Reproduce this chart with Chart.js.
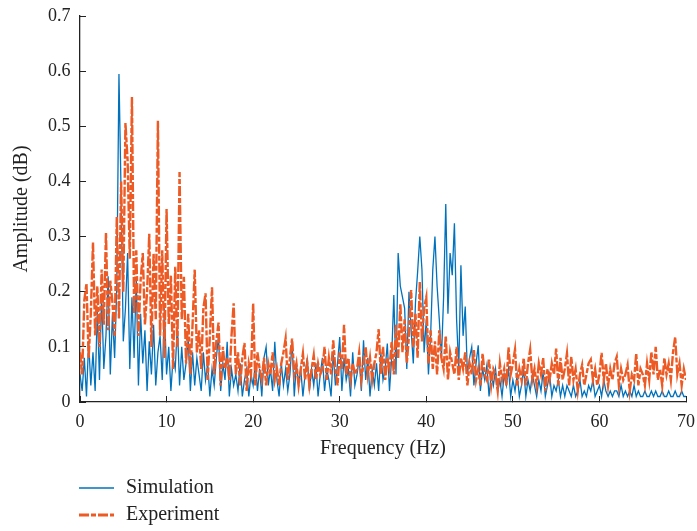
<!DOCTYPE html>
<html>
<head>
<meta charset="utf-8">
<script src="https://cdn.jsdelivr.net/npm/chart.js@4.4.1/dist/chart.umd.min.js"></script>
<style>
  body { margin: 0; background: #fff; }
</style>
</head>
<body>
<canvas id="spectrum" width="697" height="531"></canvas>
<script>
// samples every 0.25 Hz from 0 to 70 Hz
const step = 0.25;

const simulation = [
  0.05, 0.02, 0.08, 0.01,   0.11, 0.03, 0.09, 0.02,   0.17, 0.04, 0.195, 0.06,  0.12, 0.228, 0.05, 0.16,
  0.08, 0.21, 0.595, 0.375, 0.11, 0.17, 0.27, 0.06,   0.19, 0.08, 0.226, 0.03,  0.16, 0.07, 0.13, 0.02,
  0.11, 0.05, 0.14, 0.03,   0.09, 0.12, 0.04, 0.17,   0.05, 0.10, 0.02, 0.08,   0.06, 0.14, 0.03, 0.10,
  0.04, 0.07, 0.115, 0.02,  0.09, 0.03, 0.08, 0.05,   0.02, 0.09, 0.04, 0.07,   0.01, 0.06, 0.03, 0.08,
  0.121, 0.02, 0.07, 0.04,  0.109, 0.01, 0.06, 0.03,  0.05, 0.02, 0.07, 0.01,   0.04, 0.06, 0.01, 0.05,
  0.03, 0.07, 0.02, 0.06,   0.01, 0.08, 0.10, 0.03,   0.06, 0.02, 0.109, 0.04,  0.01, 0.07, 0.03, 0.06,
  0.02, 0.05, 0.11, 0.01,   0.07, 0.03, 0.06, 0.01,   0.05, 0.08, 0.02, 0.06,   0.03, 0.07, 0.01, 0.05,
  0.08, 0.02, 0.06, 0.04,   0.01, 0.09, 0.03, 0.07,   0.118, 0.02, 0.08, 0.04,  0.06, 0.01, 0.09, 0.03,
  0.05, 0.08, 0.02, 0.112,  0.04, 0.08, 0.01, 0.06,   0.03, 0.07, 0.02, 0.09,   0.04, 0.06, 0.106, 0.02,
  0.08, 0.194, 0.05, 0.27,  0.21, 0.19, 0.17, 0.06,   0.20, 0.13, 0.07, 0.18,   0.236, 0.30, 0.24, 0.09,
  0.15, 0.05, 0.12, 0.24,   0.30, 0.21, 0.15, 0.08,   0.19, 0.359, 0.16, 0.27,  0.23, 0.324, 0.15, 0.06,
  0.248, 0.12, 0.173, 0.05, 0.08, 0.10, 0.03, 0.07,   0.103, 0.02, 0.06, 0.04,  0.067, 0.01, 0.05, 0.03,
  0.06, 0.02, 0.04, 0.01,   0.05, 0.03, 0.06, 0.01,   0.04, 0.02, 0.05, 0.01,   0.03, 0.06, 0.01, 0.04,
  0.02, 0.05, 0.03, 0.01,   0.04, 0.02, 0.055, 0.01,  0.03, 0.05, 0.01, 0.03,   0.02, 0.04, 0.01, 0.03,
  0.01, 0.03, 0.02, 0.01,   0.03, 0.01, 0.02, 0.04,   0.01, 0.02, 0.01, 0.03,   0.02, 0.04, 0.01, 0.02,
  0.03, 0.01, 0.04, 0.02,   0.01, 0.02, 0.01, 0.02,   0.02, 0.01, 0.03, 0.01,   0.02, 0.01, 0.02, 0.01,
  0.03, 0.01, 0.02, 0.01,   0.01, 0.02, 0.01, 0.01,   0.02, 0.01, 0.02, 0.01,   0.01, 0.02, 0.01, 0.01,
  0.02, 0.01, 0.01, 0.02,   0.01, 0.01, 0.02, 0.01,   0.01
];

const experiment = [
  0.09, 0.05, 0.185, 0.215, 0.08, 0.16, 0.29, 0.12,   0.21, 0.10, 0.24, 0.14,   0.308, 0.13, 0.22, 0.18,
  0.12, 0.336, 0.15, 0.40,  0.20, 0.506, 0.438, 0.26, 0.553, 0.16, 0.275, 0.12, 0.22, 0.27, 0.14, 0.20,
  0.305, 0.10, 0.27, 0.15,  0.51, 0.12, 0.275, 0.08,  0.35, 0.14, 0.23, 0.06,   0.245, 0.10, 0.417, 0.15,
  0.227, 0.07, 0.16, 0.05,  0.14, 0.24, 0.09, 0.13,   0.06, 0.17, 0.197, 0.04,  0.12, 0.208, 0.05, 0.11,
  0.144, 0.03, 0.10, 0.06,  0.08, 0.04, 0.12, 0.179,  0.05, 0.09, 0.03, 0.08,   0.107, 0.02, 0.07, 0.05,
  0.179, 0.03, 0.09, 0.06,  0.04, 0.08, 0.03, 0.07,   0.05, 0.09, 0.04, 0.06,   0.03, 0.07, 0.09, 0.115,
  0.04, 0.08, 0.115, 0.05,  0.07, 0.03, 0.06, 0.088,  0.04, 0.07, 0.03, 0.06,   0.085, 0.04, 0.07, 0.05,
  0.06, 0.10, 0.04, 0.08,   0.05, 0.112, 0.06, 0.03,  0.09, 0.06, 0.14, 0.05,   0.08, 0.04, 0.07, 0.05,
  0.06, 0.09, 0.04, 0.07,   0.10, 0.05, 0.08, 0.04,   0.07, 0.09, 0.132, 0.05,  0.10, 0.04, 0.08, 0.06,
  0.11, 0.05, 0.14, 0.08,   0.179, 0.09, 0.15, 0.07,  0.12, 0.203, 0.10, 0.16,  0.08, 0.218, 0.11, 0.17,
  0.19, 0.07, 0.13, 0.06,   0.11, 0.05, 0.13, 0.08,   0.06, 0.12, 0.04, 0.09,   0.07, 0.05, 0.10, 0.04,
  0.08, 0.06, 0.09, 0.03,   0.07, 0.05, 0.094, 0.04,  0.06, 0.03, 0.088, 0.05,  0.04, 0.077, 0.03, 0.06,
  0.05, 0.02, 0.07, 0.04,   0.06, 0.03, 0.099, 0.05,  0.07, 0.095, 0.03, 0.06,  0.04, 0.08, 0.03, 0.07,
  0.095, 0.04, 0.06, 0.03,  0.07, 0.05, 0.08, 0.02,   0.06, 0.04, 0.07, 0.05,   0.097, 0.03, 0.08, 0.04,
  0.06, 0.088, 0.03, 0.082, 0.04, 0.06, 0.02, 0.05,   0.067, 0.03, 0.05, 0.07,  0.077, 0.04, 0.06, 0.03,
  0.05, 0.089, 0.04, 0.07,  0.03, 0.06, 0.04, 0.07,   0.082, 0.03, 0.06, 0.04,  0.05, 0.067, 0.02, 0.05,
  0.04, 0.088, 0.03, 0.06,  0.05, 0.03, 0.07, 0.04,   0.091, 0.05, 0.10, 0.04,  0.06, 0.03, 0.08, 0.05,
  0.07, 0.04, 0.09, 0.118,  0.05, 0.07, 0.03, 0.06,   0.04
];

const seriesNames = ['Simulation', 'Experiment'];
const seriesColors = ['#0072BD', '#EE5A24'];
const xTicks = [0, 10, 20, 30, 40, 50, 60, 70];
const yTicks = [0, 0.1, 0.2, 0.3, 0.4, 0.5, 0.6, 0.7];

const toPoints = values => values.map((v, i) => ({ x: i * step, y: v }));

Chart.defaults.font.family = "'Liberation Serif', 'Times New Roman', serif";
Chart.defaults.color = '#222';

// legend stacked under the x axis title, like the figure
const stackedLegend = {
  id: 'stackedLegend',
  afterDraw(chart) {
    const ctx = chart.ctx;
    ctx.save();
    ctx.font = "20px 'Liberation Serif', serif";
    ctx.textBaseline = 'middle';
    chart.data.datasets.forEach((ds, i) => {
      const y = 488 + i * 27;
      ctx.beginPath();
      ctx.strokeStyle = ds.borderColor;
      ctx.lineWidth = i === 0 ? 1.4 : 3;
      ctx.setLineDash(i === 0 ? [] : [10, 2, 5, 2]);
      ctx.moveTo(79, y);
      ctx.lineTo(114, y);
      ctx.stroke();
      ctx.setLineDash([]);
      ctx.fillStyle = '#222';
      ctx.fillText(ds.label, 126, y);
    });
    ctx.restore();
  }
};

new Chart(document.getElementById('spectrum'), {
  type: 'line',
  data: {
    datasets: [
      {
        label: seriesNames[0],
        data: toPoints(simulation),
        borderColor: seriesColors[0],
        borderWidth: 1.3,
        pointRadius: 0,
        tension: 0,
        order: 1
      },
      {
        label: seriesNames[1],
        data: toPoints(experiment),
        borderColor: seriesColors[1],
        borderWidth: 2.4,
        borderDash: [10, 2, 5, 2],
        pointRadius: 0,
        tension: 0,
        order: 0
      }
    ]
  },
  options: {
    responsive: false,
    animation: false,
    layout: { padding: { left: 0, top: 16, right: 11, bottom: 69 } },
    plugins: {
      legend: { display: false },
      tooltip: { enabled: false }
    },
    scales: {
      x: {
        type: 'linear',
        min: 0,
        max: 70,
        afterBuildTicks: axis => { axis.ticks = xTicks.map(v => ({ value: v })); },
        afterFit: axis => { axis.height = 60; axis.paddingLeft = 0; axis.paddingRight = 0; },
        grid: { drawOnChartArea: false, tickLength: -6, color: '#222', lineWidth: 1 },
        border: { display: true, color: '#222', width: 1.3 },
        ticks: { padding: 15, font: { size: 18 }, maxRotation: 0 },
        title: { display: true, text: 'Frequency (Hz)', font: { size: 20 }, padding: { top: 0, bottom: 1 } }
      },
      y: {
        min: 0,
        max: 0.7,
        afterBuildTicks: axis => { axis.ticks = yTicks.map(v => ({ value: v })); },
        afterFit: axis => { axis.width = 80; axis.paddingTop = 0; axis.paddingBottom = 0; },
        grid: { drawOnChartArea: false, tickLength: -6, color: '#222', lineWidth: 1 },
        border: { display: true, color: '#222', width: 1.3 },
        ticks: { padding: 15.5, font: { size: 18 } },
        title: { display: true, text: 'Amplitude (dB)', font: { size: 20 }, padding: { top: 10, bottom: 0 } }
      }
    }
  },
  plugins: [stackedLegend]
});
</script>
</body>
</html>
